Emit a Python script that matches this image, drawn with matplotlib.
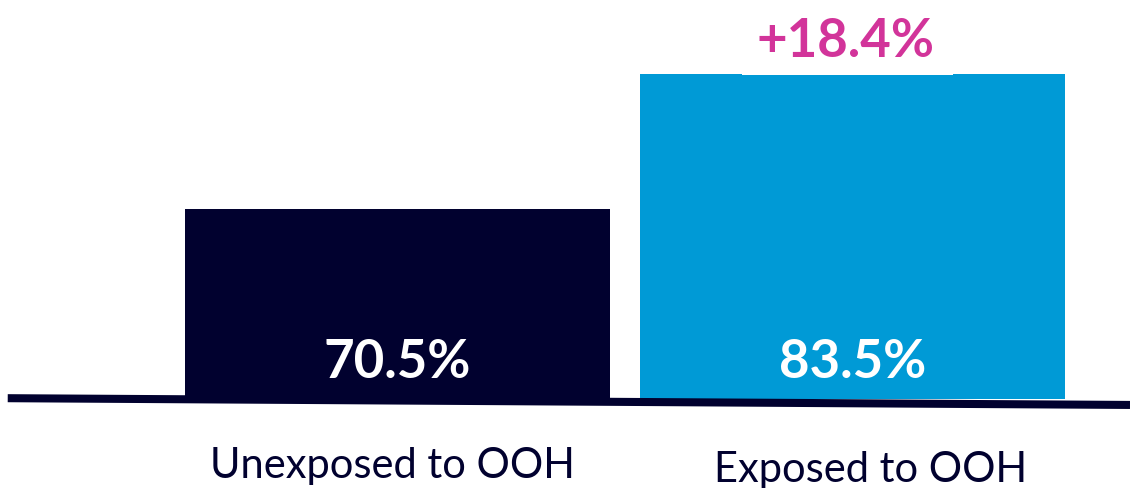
import numpy as np
import matplotlib.pyplot as plt
from matplotlib.patches import Rectangle

# ===================== DATA =====================
categories = ['Unexposed to OOH', 'Exposed to OOH']
values = [70.5, 83.5]
value_labels = ['70.5%', '83.5%']
uplift_label = '+18.4%'

NAVY = '#01012f'
BLUE = '#009ad6'
MAGENTA = '#d2349a'

# ===================== FIGURE =====================
W, H = 1130, 489
fig = plt.figure(figsize=(W / 100, H / 100), dpi=100)
ax = fig.add_axes([0, 0, 1, 1])
ax.set_xlim(-0.874, 1.610)
ax.set_ylim(43.6, 90.7)
ax.axis('off')

BASE = 52.2
x = np.arange(len(categories))
vals = np.array(values)
ax.bar(x, vals - BASE, bottom=BASE, width=0.934, color=[NAVY, BLUE], zorder=2)

# base line (slightly tilted, as in the original)
ax.plot([-0.857, 1.610], [BASE + 0.05, BASE - 0.6], color=NAVY, lw=5.8,
        solid_capstyle='butt', zorder=3)

# value labels inside bars
for xi, lab in zip(x, value_labels):
    ax.text(xi, 54.3, lab, ha='center', va='baseline', color='white',
            fontsize=38, fontweight='bold', family='Lato', zorder=4)

# white box behind the uplift label, cutting into the bar top
ax.add_patch(Rectangle((0.757, values[1] - 0.15), 0.4635, 10, fc='white',
                       ec='none', zorder=3))
ax.text(x[1] - 0.015, 85.2, uplift_label, ha='center', va='baseline',
        color=MAGENTA, fontsize=38, fontweight='bold', family='Lato', zorder=4)

# category labels
ax.text(x[0] - 0.012, 44.7, categories[0], ha='center', va='baseline',
        color=NAVY, fontsize=30, family='Lato')
ax.text(x[1] + 0.04, 44.3, categories[1], ha='center', va='baseline',
        color=NAVY, fontsize=30, family='Lato')

fig.savefig('out.png', dpi=100)
